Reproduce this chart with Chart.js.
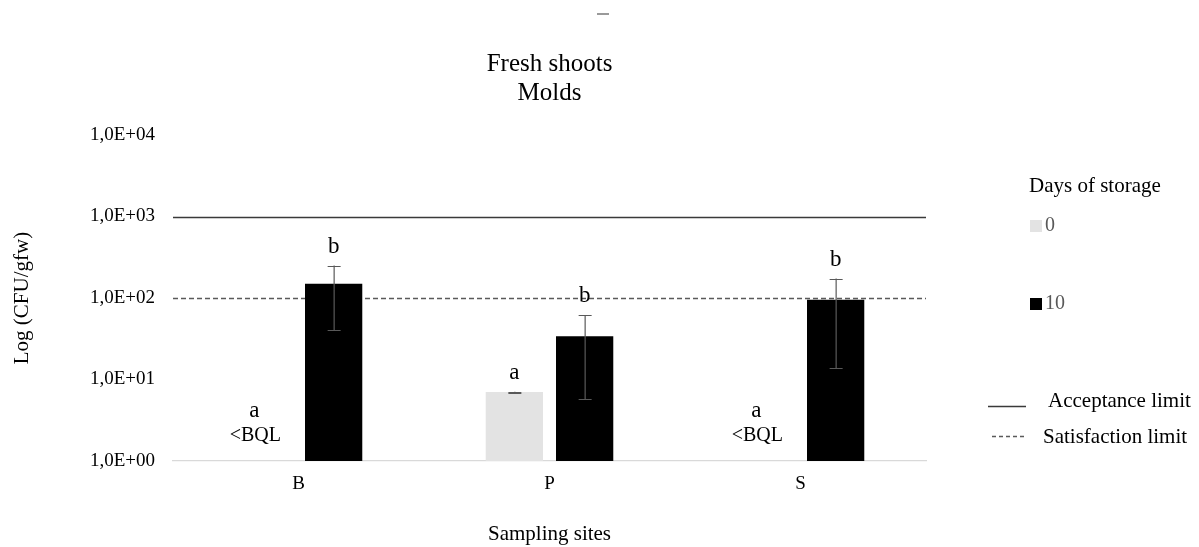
<!DOCTYPE html>
<html>
<head>
<meta charset="utf-8">
<script src="https://cdn.jsdelivr.net/npm/chart.js@4.4.1/dist/chart.umd.min.js"></script>
<style>
  html, body { margin: 0; padding: 0; background: #ffffff; }
  #wrap { width: 1199px; height: 547px; position: relative; }
</style>
</head>
<body>
<div id="wrap"><canvas id="chart" width="1199" height="547"></canvas></div>
<script>
// Sampling sites and storage groups
const sites = ['B', 'P', 'S'];
const storageDays = ['0', '10'];

// Mould counts (CFU/gfw); null = below quantification limit
const day0Mean = [null, 7, null];
const day0Low = [null, 6.9, null];
const day0High = [null, 7.05, null];
const day10Mean = [150, 34, 95];
const day10Low = [40, 5.7, 13.7];
const day10High = [250, 62, 173];

// Significance letters and notes above each bar
const day0Letters = ['a', 'a', 'a'];
const day10Letters = ['b', 'b', 'b'];
const day0Notes = ['<BQL', '', '<BQL'];

// Log axis ticks and reference limits
const yTicks = [1, 10, 100, 1000, 10000];
const acceptanceLimit = 1000;
const satisfactionLimit = 100;

const SERIF = "'Liberation Serif', 'Times New Roman', serif";
const colors = { day0: '#e3e3e3', day10: '#000000', text: '#595959' };

function sciLabel(v) {
  const e = Math.round(Math.log10(v));
  return '1,0E+' + String(e).padStart(2, '0');
}

// Reference limit lines, drawn behind the bars
const limitLines = {
  id: 'limitLines',
  beforeDatasetsDraw(chart) {
    const { ctx, chartArea, scales } = chart;
    ctx.save();
    const yA = Math.round(scales.y.getPixelForValue(acceptanceLimit)) + 0.5;
    ctx.strokeStyle = '#3a3a3a';
    ctx.lineWidth = 1.6;
    ctx.beginPath();
    ctx.moveTo(chartArea.left, yA);
    ctx.lineTo(chartArea.right, yA);
    ctx.stroke();
    const yS = Math.round(scales.y.getPixelForValue(satisfactionLimit)) + 0.5;
    ctx.strokeStyle = '#5a5a5a';
    ctx.lineWidth = 1.6;
    ctx.setLineDash([5, 3]);
    ctx.beginPath();
    ctx.moveTo(chartArea.left, yS);
    ctx.lineTo(chartArea.right, yS);
    ctx.stroke();
    ctx.restore();
  }
};

// Error bars, letters and notes, drawn over the bars
const barExtras = {
  id: 'barExtras',
  afterDatasetsDraw(chart) {
    const { ctx, scales } = chart;
    const y = scales.y;
    const groups = [
      { meta: chart.getDatasetMeta(0), mean: day0Mean, low: day0Low, high: day0High, letters: day0Letters, notes: day0Notes },
      { meta: chart.getDatasetMeta(1), mean: day10Mean, low: day10Low, high: day10High, letters: day10Letters, notes: null }
    ];
    ctx.save();
    groups.forEach(g => {
      g.meta.data.forEach((bar, i) => {
        const cx = bar.x;
        if (g.mean[i] == null) {
          // below quantification limit: letter and note near the baseline
          const base = y.getPixelForValue(1);
          ctx.fillStyle = '#000000';
          ctx.textAlign = 'center';
          ctx.textBaseline = 'middle';
          ctx.font = '23px ' + SERIF;
          ctx.fillText(g.letters[i], cx - 9, base - 50);
          ctx.font = '20px ' + SERIF;
          ctx.fillText(g.notes ? g.notes[i] : '', cx - 8, base - 25);
          return;
        }
        const yHi = y.getPixelForValue(g.high[i]);
        const yLo = y.getPixelForValue(g.low[i]);
        ctx.strokeStyle = '#595959';
        ctx.lineWidth = 1.2;
        ctx.beginPath();
        ctx.moveTo(cx + 0.5, yHi);
        ctx.lineTo(cx + 0.5, yLo);
        ctx.moveTo(cx - 6, Math.round(yHi) + 0.5);
        ctx.lineTo(cx + 7, Math.round(yHi) + 0.5);
        ctx.moveTo(cx - 6, Math.round(yLo) + 0.5);
        ctx.lineTo(cx + 7, Math.round(yLo) + 0.5);
        ctx.stroke();
        ctx.fillStyle = '#000000';
        ctx.textAlign = 'center';
        ctx.textBaseline = 'middle';
        ctx.font = '23px ' + SERIF;
        ctx.fillText(g.letters[i], cx, Math.min(yHi, bar.y) - 19);
      });
    });
    ctx.restore();
  }
};

// Side legend: storage days and limit line styles
const sideLegend = {
  id: 'sideLegend',
  afterDraw(chart) {
    const { ctx } = chart;
    ctx.save();
    ctx.textBaseline = 'middle';
    ctx.textAlign = 'left';
    ctx.font = '21px ' + SERIF;
    ctx.fillStyle = '#000000';
    ctx.fillText('Days of storage', 1029, 186);

    const items = [
      { label: storageDays[0], color: colors.day0, y: 226 },
      { label: storageDays[1], color: colors.day10, y: 304 }
    ];
    items.forEach(it => {
      ctx.fillStyle = it.color;
      ctx.fillRect(1030, it.y - 6, 12, 12);
      ctx.fillStyle = colors.text;
      ctx.font = '20px ' + SERIF;
      ctx.fillText(it.label, 1045, it.y);
    });

    ctx.strokeStyle = '#3a3a3a';
    ctx.lineWidth = 1.6;
    ctx.beginPath();
    ctx.moveTo(988, 406.5);
    ctx.lineTo(1026, 406.5);
    ctx.stroke();
    ctx.strokeStyle = '#5a5a5a';
    ctx.setLineDash([4, 3]);
    ctx.beginPath();
    ctx.moveTo(992, 436.5);
    ctx.lineTo(1027, 436.5);
    ctx.stroke();
    ctx.setLineDash([]);

    ctx.fillStyle = '#000000';
    ctx.font = '21px ' + SERIF;
    ctx.fillText('Acceptance limit', 1048, 401);
    ctx.fillText('Satisfaction limit', 1043, 437);

    // small grey mark above the title
    ctx.strokeStyle = '#9a9a9a';
    ctx.lineWidth = 2;
    ctx.beginPath();
    ctx.moveTo(597, 14);
    ctx.lineTo(609, 14);
    ctx.stroke();
    ctx.restore();
  }
};

new Chart(document.getElementById('chart'), {
  type: 'bar',
  data: {
    labels: sites,
    datasets: [
      { label: storageDays[0], data: day0Mean, backgroundColor: colors.day0, categoryPercentage: 0.56, barPercentage: 0.815 },
      { label: storageDays[1], data: day10Mean, backgroundColor: colors.day10, categoryPercentage: 0.56, barPercentage: 0.815 }
    ]
  },
  options: {
    responsive: false,
    animation: false,
    devicePixelRatio: 1,
    layout: { padding: { left: 0, right: 273, top: 0, bottom: 0 } },
    plugins: {
      legend: { display: false },
      tooltip: { enabled: false },
      title: {
        display: true,
        fullSize: false,
        text: ['Fresh shoots', 'Molds'],
        color: '#000000',
        font: { family: SERIF, size: 25, weight: 'normal', lineHeight: '29px' },
        padding: { top: 50, bottom: 27 }
      }
    },
    scales: {
      x: {
        grid: { display: false, drawTicks: false },
        border: { display: true, color: '#d9d9d9', width: 1.2 },
        ticks: { color: '#000000', padding: 12, font: { family: SERIF, size: 19 } },
        title: { display: true, text: 'Sampling sites', color: '#000000', font: { family: SERIF, size: 21 }, padding: { top: 22, bottom: 0 } },
        afterFit(scale) { scale.height = 86; }
      },
      y: {
        type: 'logarithmic',
        min: 1,
        max: 10000,
        grid: { display: false, drawTicks: false },
        border: { display: false },
        afterBuildTicks(scale) { scale.ticks = yTicks.map(v => ({ value: v })); },
        ticks: { color: '#000000', padding: 18, font: { family: SERIF, size: 19 }, callback: (v) => sciLabel(v) },
        title: { display: true, text: 'Log (CFU/gfw)', color: '#000000', font: { family: SERIF, size: 21 }, padding: { top: 10, bottom: 0 } },
        afterFit(scale) { scale.width = 173; }
      }
    }
  },
  plugins: [limitLines, barExtras, sideLegend]
});
</script>
</body>
</html>
